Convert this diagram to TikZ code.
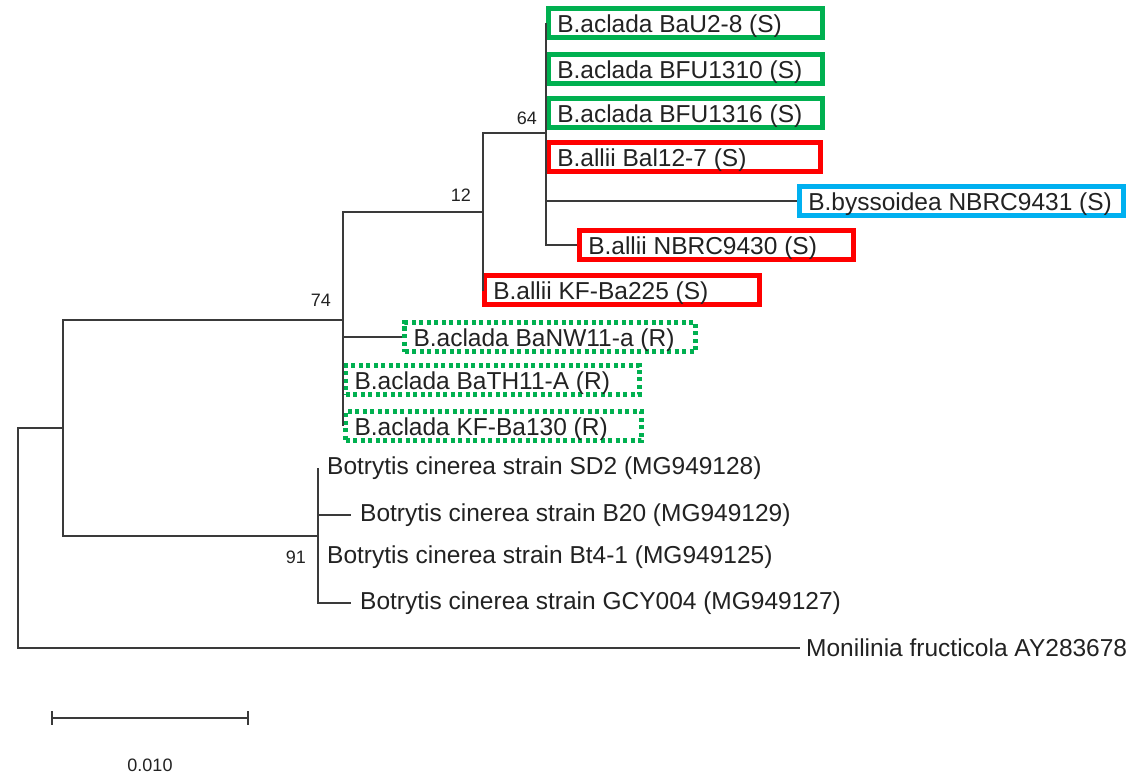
\documentclass[tikz,border=0pt]{standalone}
\usepackage{fontspec}
\setmainfont{Liberation Sans}
\definecolor{treegray}{HTML}{3A3A3A}
\definecolor{txt}{HTML}{222222}
\definecolor{sgreen}{HTML}{00B050}
\definecolor{sred}{HTML}{FF0000}
\definecolor{sblue}{HTML}{00B0F0}
\tikzset{
  branch/.style={draw=treegray, line width=1.6pt},
  taxon/.style={font=\fontsize{24.5}{26}\selectfont, text=txt, anchor=west,
    inner ysep=0pt, inner xsep=#1},
  taxon/.default=9pt,
  framed/.style={taxon, draw=#1, line width=4.5pt, minimum height=29pt, inner xsep=9pt,
    text height=22pt, text depth=3pt},
  dotframe/.style={dash pattern=on 4pt off 3.5pt, line width=5pt},
  boot/.style={font=\fontsize{18}{20}\selectfont, text=txt, inner sep=0pt, anchor=east}
}
% fixed-width, left-aligned label text inside a frame
\newcommand{\lbx}[2]{\makebox[#1][l]{#2}}
\begin{document}
\begin{tikzpicture}[x=1pt, y=-1pt]
\useasboundingbox (0,0) rectangle (1131,775);

% internal nodes of the tree
\coordinate (root) at (18,536);
\coordinate (ing)  at (63,428);
\coordinate (n74)  at (343,320);
\coordinate (n12)  at (483,212);
\coordinate (n64)  at (546,133);
\coordinate (ncin) at (318,536);

% resistant / sensitive isolates
\node[framed=sgreen] (bau) at (546,23)  {\lbx{256pt}{B.aclada BaU2-8 (S)}};
\node[framed=sgreen] (bfa) at (546,69)  {\lbx{256pt}{B.aclada BFU1310 (S)}};
\node[framed=sgreen] (bfb) at (546,113) {\lbx{256pt}{B.aclada BFU1316 (S)}};
\node[framed=sred]   (bal) at (546,157) {\lbx{254pt}{B.allii Bal12-7 (S)}};
\node[framed=sblue]  (bys) at (797,201) {\lbx{306pt}{B.byssoidea NBRC9431 (S)}};
\node[framed=sred]   (nbr) at (577,245) {\lbx{256pt}{B.allii NBRC9430 (S)}};
\node[framed=sred]   (kfa) at (482,290) {\lbx{257pt}{B.allii KF-Ba225 (S)}};
\node[framed=sgreen, dotframe] (bnw) at (402,337) {\lbx{273pt}{B.aclada BaNW11-a (R)}};
\node[framed=sgreen, dotframe] (bth) at (343,380) {\lbx{276pt}{B.aclada BaTH11-A (R)}};
\node[framed=sgreen, dotframe] (kfb) at (343,426) {\lbx{278pt}{B.aclada KF-Ba130 (R)}};

% B. cinerea strains and outgroup
\node[taxon] (sd2) at (318,468) {Botrytis cinerea strain SD2 (MG949128)};
\node[taxon] (b20) at (351,515) {Botrytis cinerea strain B20 (MG949129)};
\node[taxon] (bt4) at (318,557) {Botrytis cinerea strain Bt4-1 (MG949125)};
\node[taxon] (gcy) at (351,603) {Botrytis cinerea strain GCY004 (MG949127)};
\node[taxon=6pt] (mon) at (800,648) {Monilinia fructicola AY283678};

% branches
\draw[branch] (root) |- (ing);
\draw[branch] (root) |- (mon.west);
\draw[branch] (ing) |- (n74);
\draw[branch] (ing) |- (ncin);
\draw[branch] (n74) |- (n12);
\draw[branch] (n74) |- (bnw.west);
\draw[branch] (n74) |- (bth.west);
\draw[branch] (n74) |- (kfb.west);
\draw[branch] (n12) |- (n64);
\draw[branch] (n12) |- (kfa.west);
\draw[branch] (n64) |- (bau.west);
\draw[branch] (n64) |- (bfa.west);
\draw[branch] (n64) |- (bfb.west);
\draw[branch] (n64) |- (bal.west);
\draw[branch] (n64) |- (bys.west);
\draw[branch] (n64) |- (nbr.west);
\draw[branch] (ncin) |- (sd2.west);
\draw[branch] (ncin) |- (b20.west);
\draw[branch] (ncin) |- (bt4.west);
\draw[branch] (ncin) |- (gcy.west);

% bootstrap values
\node[boot] (bs64) at (537,118) {64};
\node[boot] (bs12) at (471,195) {12};
\node[boot] (bs74) at (331,300) {74};
\node[boot] (bs91) at (306,557) {91};

% scale bar
\coordinate (sbl) at (52,718);
\coordinate (sbr) at (248,718);
\draw[branch] (sbl) -- (sbr);
\draw[branch] ([yshift=7pt]sbl) -- ([yshift=-7pt]sbl);
\draw[branch] ([yshift=7pt]sbr) -- ([yshift=-7pt]sbr);
\node[font=\fontsize{18}{20}\selectfont, text=txt, inner sep=0pt] (sbt) at (150,765) {0.010};
\end{tikzpicture}
\end{document}
